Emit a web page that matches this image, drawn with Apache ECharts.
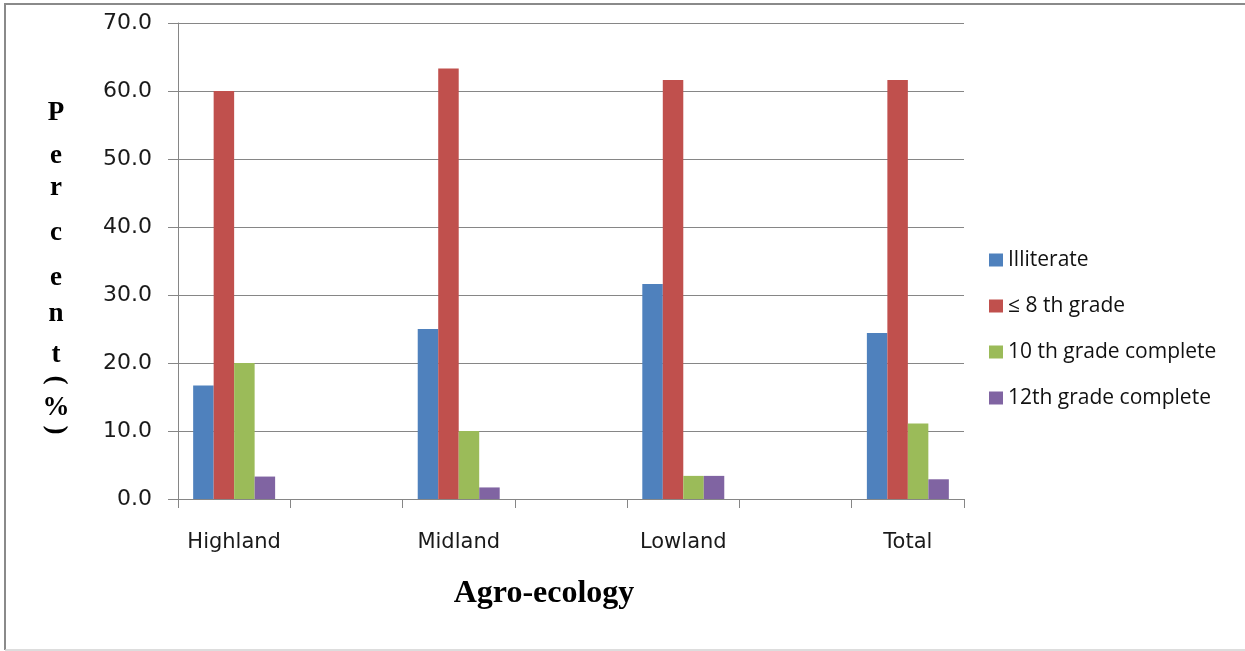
<!DOCTYPE html>
<html>
<head>
<meta charset="utf-8">
<script src="https://cdn.jsdelivr.net/npm/echarts@6/dist/echarts.min.js"></script>
<style>
  html, body { margin: 0; padding: 0; background: #fff; }
  #chart { width: 1245px; height: 651px; }
</style>
</head>
<body>
<div id="chart"></div>
<script>
// Agro-ecology groups shown on the category axis
var zones = ['Highland', 'Midland', 'Lowland', 'Total'];

// Education level shares (%) per group
var illiterate = [16.7, 25.0, 31.6, 24.4];
var grade8 = [60.0, 63.3, 61.6, 61.6];
var grade10 = [20.0, 10.0, 3.4, 11.1];
var grade12 = [3.3, 1.7, 3.4, 2.9];

var seriesNames = ['Illiterate', '\u2264 8 th grade', '10 th grade complete', '12th grade complete'];
var seriesColors = ['#4F81BD', '#C0504D', '#9BBB59', '#8064A2'];

// y-axis tick range
var yMin = 0, yMax = 70, yStep = 10;

// Each group is followed by an empty spacer slot on the axis
function withSpacers(arr, filler) {
  var out = [];
  arr.forEach(function (v, i) {
    out.push(v);
    if (i < arr.length - 1) out.push(filler);
  });
  return out;
}

var axisCats = withSpacers(zones, '');
var seriesData = [illiterate, grade8, grade10, grade12];

var chart = echarts.init(document.getElementById('chart'), null, { renderer: 'canvas' });

var series = seriesData.map(function (vals, i) {
  return {
    name: seriesNames[i],
    type: 'bar',
    data: withSpacers(vals, '-'),
    itemStyle: { color: seriesColors[i] },
    barGap: '0%',
    barCategoryGap: '27%'
  };
});

// Stacked letters of the vertical axis title
var titleChars = [
  { ch: 'P', y: 113, rot: 0 },
  { ch: 'e', y: 156, rot: 0 },
  { ch: 'r', y: 188, rot: 0 },
  { ch: 'c', y: 233, rot: 0 },
  { ch: 'e', y: 278, rot: 0 },
  { ch: 'n', y: 314, rot: 0 },
  { ch: 't', y: 355, rot: 0 },
  { ch: '(', y: 380, rot: -Math.PI / 2 },
  { ch: '%', y: 408, rot: 0 },
  { ch: ')', y: 430, rot: -Math.PI / 2 }
];

var graphics = titleChars.map(function (c) {
  return {
    type: 'text',
    x: 56,
    y: c.y,
    rotation: c.rot,
    style: {
      text: c.ch,
      font: 'bold 27px "Liberation Serif", "Times New Roman", serif',
      fill: '#000',
      align: 'center',
      verticalAlign: 'middle'
    }
  };
});

graphics.push({
  type: 'text',
  x: 544,
  y: 594,
  style: {
    text: 'Agro-ecology',
    font: 'bold 32px "Liberation Serif", "Times New Roman", serif',
    fill: '#000',
    align: 'center',
    verticalAlign: 'middle'
  }
});

// Outer frame
graphics.push({
  type: 'polyline',
  shape: { points: [[5, 650], [5, 4], [1245, 4]] },
  style: { stroke: '#8a8a8a', lineWidth: 2, fill: null },
  silent: true
});
graphics.push({
  type: 'line',
  shape: { x1: 5, y1: 650, x2: 1245, y2: 650 },
  style: { stroke: '#d2d2d2', lineWidth: 1.5 },
  silent: true
});

chart.setOption({
  animation: false,
  backgroundColor: '#ffffff',
  grid: { left: 178, right: 281, top: 23, bottom: 152, containLabel: false },
  legend: {
    orient: 'vertical',
    left: 984,
    top: 244,
    itemWidth: 14,
    itemHeight: 13,
    itemGap: 24,
    icon: 'rect',
    textStyle: {
      fontFamily: '"Open Sans", sans-serif',
      fontSize: 21,
      color: '#111',
      lineHeight: 22
    },
    data: seriesNames
  },
  xAxis: {
    type: 'category',
    data: axisCats,
    boundaryGap: true,
    axisLine: { show: true, lineStyle: { color: '#868686', width: 1 } },
    axisTick: { show: true, alignWithLabel: false, interval: 0, length: 9, inside: false, lineStyle: { color: '#868686' } },
    axisLabel: {
      interval: 0,
      margin: 33,
      fontFamily: '"DejaVu Sans", sans-serif',
      fontSize: 21,
      color: '#1a1a1a'
    },
    splitLine: { show: false }
  },
  yAxis: {
    type: 'value',
    min: yMin,
    max: yMax,
    interval: yStep,
    axisLine: { show: true, lineStyle: { color: '#868686', width: 1 } },
    axisTick: { show: true, length: 10, lineStyle: { color: '#868686' } },
    axisLabel: {
      margin: 26,
      fontFamily: '"DejaVu Sans", sans-serif',
      fontSize: 22,
      color: '#1a1a1a',
      formatter: function (v) { return v.toFixed(1); }
    },
    splitLine: { show: true, lineStyle: { color: '#868686', width: 1 } }
  },
  series: series,
  graphic: graphics
});
</script>
</body>
</html>
